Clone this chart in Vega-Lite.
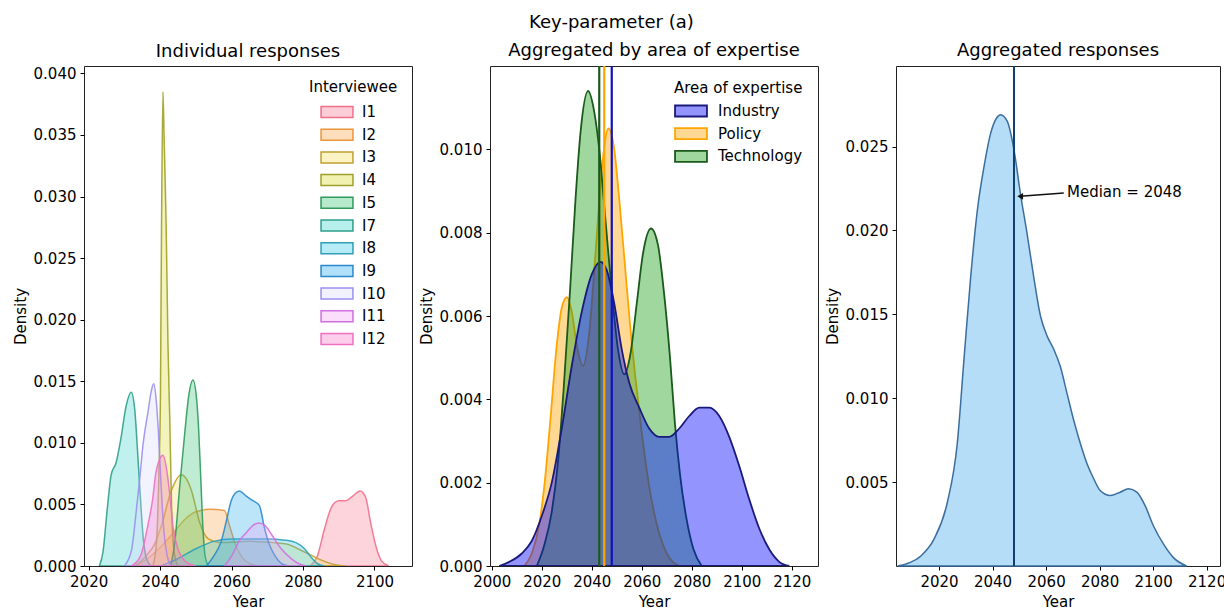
{
  "$schema": "https://vega.github.io/schema/vega-lite/v6.json",
  "padding": {"left": 12, "top": 14, "right": 2, "bottom": 2},
  "title": {"text": "Key-parameter (a)", "anchor": "middle", "fontSize": 18, "fontWeight": "normal", "font": "DejaVu Sans", "color": "#000", "offset": 9, "dx": -8},
  "config": {
    "font": "DejaVu Sans",
    "view": {"stroke": "#222", "strokeWidth": 1},
    "axis": {"grid": false, "domain": false, "labelFontSize": 15, "titleFontSize": 15, "titleFontWeight": "normal", "labelColor": "#000", "titleColor": "#000", "tickColor": "#000", "tickSize": 4, "labelPadding": 4, "titlePadding": 5, "labelFont": "DejaVu Sans", "titleFont": "DejaVu Sans"},
    "title": {"fontSize": 18, "fontWeight": "normal", "font": "DejaVu Sans", "color": "#000", "offset": 5},
    "legend": {"titleFontSize": 15, "titleFontWeight": "normal", "labelFontSize": 15, "titleColor": "#000", "labelColor": "#000", "titleFont": "DejaVu Sans", "labelFont": "DejaVu Sans"}
  },
  "datasets": {
    "ind": [
      {"s":"I1","x":2082,"d":0},{"s":"I1","x":2084,"d":0.0008},{"s":"I1","x":2086,"d":0.003},{"s":"I1","x":2088,"d":0.0048},{"s":"I1","x":2090,"d":0.0053},{"s":"I1","x":2092,"d":0.0053},{"s":"I1","x":2094,"d":0.0057},{"s":"I1","x":2096,"d":0.0061},{"s":"I1","x":2097.5,"d":0.0056},{"s":"I1","x":2099,"d":0.0034},{"s":"I1","x":2100.5,"d":0.0015},{"s":"I1","x":2102,"d":0.0004},{"s":"I1","x":2104,"d":0},
      {"s":"I2","x":2033,"d":0},{"s":"I2","x":2036,"d":0.0005},{"s":"I2","x":2040,"d":0.0015},{"s":"I2","x":2044,"d":0.0028},{"s":"I2","x":2047,"d":0.0038},{"s":"I2","x":2050,"d":0.0044},{"s":"I2","x":2054,"d":0.0046},{"s":"I2","x":2058,"d":0.0045},{"s":"I2","x":2059.5,"d":0.0032},{"s":"I2","x":2061.3,"d":0.0016},{"s":"I2","x":2063,"d":0.0007},{"s":"I2","x":2066,"d":0.0001},{"s":"I2","x":2068,"d":0},
      {"s":"I3","x":2033,"d":0},{"s":"I3","x":2036,"d":0.0008},{"s":"I3","x":2038.5,"d":0.0018},{"s":"I3","x":2040.5,"d":0.0034},{"s":"I3","x":2043,"d":0.006},{"s":"I3","x":2046,"d":0.0074},{"s":"I3","x":2048.7,"d":0.0062},{"s":"I3","x":2051,"d":0.0036},{"s":"I3","x":2053.5,"d":0.0022},{"s":"I3","x":2057,"d":0.0019},{"s":"I3","x":2065,"d":0.002},{"s":"I3","x":2075,"d":0.0018},{"s":"I3","x":2080,"d":0.0012},{"s":"I3","x":2085,"d":0.0005},{"s":"I3","x":2089,"d":0.0001},{"s":"I3","x":2092,"d":0},
      {"s":"I4","x":2038,"d":0},{"s":"I4","x":2039,"d":0.002},{"s":"I4","x":2039.7,"d":0.008},{"s":"I4","x":2040.1,"d":0.014},{"s":"I4","x":2040.4,"d":0.0276},{"s":"I4","x":2040.8,"d":0.0385},{"s":"I4","x":2041.1,"d":0.035},{"s":"I4","x":2041.7,"d":0.0276},{"s":"I4","x":2042.2,"d":0.018},{"s":"I4","x":2042.7,"d":0.012},{"s":"I4","x":2043.2,"d":0.005},{"s":"I4","x":2044,"d":0.001},{"s":"I4","x":2045,"d":0},
      {"s":"I5","x":2043,"d":0},{"s":"I5","x":2044.1,"d":0.0019},{"s":"I5","x":2045.5,"d":0.0065},{"s":"I5","x":2046.9,"d":0.0108},{"s":"I5","x":2048,"d":0.0138},{"s":"I5","x":2049.2,"d":0.0151},{"s":"I5","x":2050.2,"d":0.0136},{"s":"I5","x":2050.8,"d":0.011},{"s":"I5","x":2051.4,"d":0.007},{"s":"I5","x":2052,"d":0.003},{"s":"I5","x":2052.6,"d":0.0008},{"s":"I5","x":2053.5,"d":0},
      {"s":"I7","x":2023,"d":0},{"s":"I7","x":2024,"d":0.0011},{"s":"I7","x":2025.2,"d":0.0046},{"s":"I7","x":2026.3,"d":0.0074},{"s":"I7","x":2027.7,"d":0.0084},{"s":"I7","x":2029,"d":0.0103},{"s":"I7","x":2030.5,"d":0.013},{"s":"I7","x":2031.9,"d":0.0141},{"s":"I7","x":2032.9,"d":0.0127},{"s":"I7","x":2033.8,"d":0.0088},{"s":"I7","x":2034.5,"d":0.0055},{"s":"I7","x":2035.3,"d":0.0022},{"s":"I7","x":2036.2,"d":0.0006},{"s":"I7","x":2037.5,"d":0},
      {"s":"I8","x":2040,"d":0},{"s":"I8","x":2045,"d":0.0006},{"s":"I8","x":2050,"d":0.0014},{"s":"I8","x":2055,"d":0.002},{"s":"I8","x":2060,"d":0.0022},{"s":"I8","x":2065,"d":0.0022},{"s":"I8","x":2070,"d":0.0022},{"s":"I8","x":2075,"d":0.0021},{"s":"I8","x":2078,"d":0.0019},{"s":"I8","x":2080.4,"d":0.0014},{"s":"I8","x":2082.3,"d":0.0007},{"s":"I8","x":2084,"d":0.0002},{"s":"I8","x":2086,"d":0},
      {"s":"I9","x":2053,"d":0},{"s":"I9","x":2055,"d":0.0008},{"s":"I9","x":2057.1,"d":0.002},{"s":"I9","x":2058.5,"d":0.0036},{"s":"I9","x":2059.9,"d":0.0053},{"s":"I9","x":2061,"d":0.0059},{"s":"I9","x":2062.2,"d":0.0061},{"s":"I9","x":2064,"d":0.0057},{"s":"I9","x":2066,"d":0.0053},{"s":"I9","x":2067.8,"d":0.0049},{"s":"I9","x":2069.2,"d":0.0031},{"s":"I9","x":2070.5,"d":0.0018},{"s":"I9","x":2072,"d":0.0009},{"s":"I9","x":2074,"d":0.0002},{"s":"I9","x":2076,"d":0},
      {"s":"I10","x":2030,"d":0},{"s":"I10","x":2032,"d":0.0013},{"s":"I10","x":2033.3,"d":0.0044},{"s":"I10","x":2034.3,"d":0.0071},{"s":"I10","x":2035.2,"d":0.0098},{"s":"I10","x":2036.6,"d":0.0125},{"s":"I10","x":2037.6,"d":0.0143},{"s":"I10","x":2038.2,"d":0.0148},{"s":"I10","x":2038.9,"d":0.0135},{"s":"I10","x":2039.5,"d":0.011},{"s":"I10","x":2040.2,"d":0.007},{"s":"I10","x":2041,"d":0.003},{"s":"I10","x":2042,"d":0.0008},{"s":"I10","x":2043,"d":0},
      {"s":"I11","x":2058,"d":0},{"s":"I11","x":2060,"d":0.0008},{"s":"I11","x":2062.3,"d":0.0021},{"s":"I11","x":2064.1,"d":0.0027},{"s":"I11","x":2066,"d":0.0033},{"s":"I11","x":2067.6,"d":0.0035},{"s":"I11","x":2069.3,"d":0.0033},{"s":"I11","x":2071.1,"d":0.0026},{"s":"I11","x":2073.9,"d":0.0014},{"s":"I11","x":2076.7,"d":0.0006},{"s":"I11","x":2079.5,"d":0.0001},{"s":"I11","x":2081,"d":0},
      {"s":"I12","x":2032,"d":0},{"s":"I12","x":2034.5,"d":0.0008},{"s":"I12","x":2036.5,"d":0.0032},{"s":"I12","x":2037.9,"d":0.0054},{"s":"I12","x":2038.9,"d":0.0077},{"s":"I12","x":2040.8,"d":0.009},{"s":"I12","x":2042,"d":0.0075},{"s":"I12","x":2042.7,"d":0.0058},{"s":"I12","x":2043.6,"d":0.0032},{"s":"I12","x":2045,"d":0.0014},{"s":"I12","x":2047,"d":0.0004},{"s":"I12","x":2050,"d":0}
    ],
    "area": [
      {"s":"Policy","x":2013,"d":0},{"s":"Policy","x":2016,"d":0.0003},{"s":"Policy","x":2019,"d":0.001},{"s":"Policy","x":2021,"d":0.0019},{"s":"Policy","x":2023.3,"d":0.0034},{"s":"Policy","x":2026,"d":0.0053},{"s":"Policy","x":2028,"d":0.0062},{"s":"Policy","x":2030,"d":0.00645},{"s":"Policy","x":2032,"d":0.0061},{"s":"Policy","x":2034,"d":0.0053},{"s":"Policy","x":2036.5,"d":0.0048},{"s":"Policy","x":2039,"d":0.0056},{"s":"Policy","x":2041.5,"d":0.0075},{"s":"Policy","x":2044,"d":0.0095},{"s":"Policy","x":2046.7,"d":0.0105},{"s":"Policy","x":2049,"d":0.01},{"s":"Policy","x":2051,"d":0.0088},{"s":"Policy","x":2053.3,"d":0.0072},{"s":"Policy","x":2055.3,"d":0.0058},{"s":"Policy","x":2057.5,"d":0.0045},{"s":"Policy","x":2060,"d":0.0032},{"s":"Policy","x":2063,"d":0.0019},{"s":"Policy","x":2066,"d":0.001},{"s":"Policy","x":2070,"d":0.0003},{"s":"Policy","x":2075,"d":0},
      {"s":"Technology","x":2018,"d":0},{"s":"Technology","x":2021,"d":0.0005},{"s":"Technology","x":2024,"d":0.0013},{"s":"Technology","x":2026.5,"d":0.0025},{"s":"Technology","x":2028.7,"d":0.0042},{"s":"Technology","x":2031.3,"d":0.0066},{"s":"Technology","x":2033.5,"d":0.0088},{"s":"Technology","x":2035.5,"d":0.0104},{"s":"Technology","x":2038.5,"d":0.0114},{"s":"Technology","x":2041,"d":0.0109},{"s":"Technology","x":2043,"d":0.01},{"s":"Technology","x":2045.5,"d":0.0083},{"s":"Technology","x":2048,"d":0.0066},{"s":"Technology","x":2050.5,"d":0.0052},{"s":"Technology","x":2053,"d":0.0046},{"s":"Technology","x":2055.5,"d":0.0051},{"s":"Technology","x":2058,"d":0.0063},{"s":"Technology","x":2060.5,"d":0.0075},{"s":"Technology","x":2063.7,"d":0.0081},{"s":"Technology","x":2066.5,"d":0.0077},{"s":"Technology","x":2069,"d":0.0065},{"s":"Technology","x":2071.3,"d":0.005},{"s":"Technology","x":2073.3,"d":0.0034},{"s":"Technology","x":2075.3,"d":0.0022},{"s":"Technology","x":2078,"d":0.0011},{"s":"Technology","x":2080.7,"d":0.0004},{"s":"Technology","x":2084,"d":0},
      {"s":"Industry","x":2003,"d":0},{"s":"Industry","x":2007,"d":0.0001},{"s":"Industry","x":2012,"d":0.0003},{"s":"Industry","x":2016,"d":0.0006},{"s":"Industry","x":2020,"d":0.0012},{"s":"Industry","x":2024,"d":0.002},{"s":"Industry","x":2028,"d":0.0033},{"s":"Industry","x":2032,"d":0.0048},{"s":"Industry","x":2036,"d":0.0061},{"s":"Industry","x":2040,"d":0.007},{"s":"Industry","x":2043.5,"d":0.0073},{"s":"Industry","x":2046,"d":0.0071},{"s":"Industry","x":2049,"d":0.0063},{"s":"Industry","x":2052,"d":0.0052},{"s":"Industry","x":2055,"d":0.0044},{"s":"Industry","x":2059,"d":0.0038},{"s":"Industry","x":2063,"d":0.0033},{"s":"Industry","x":2067,"d":0.0031},{"s":"Industry","x":2071,"d":0.0031},{"s":"Industry","x":2075,"d":0.0033},{"s":"Industry","x":2079,"d":0.0036},{"s":"Industry","x":2083,"d":0.0038},{"s":"Industry","x":2087,"d":0.0038},{"s":"Industry","x":2091,"d":0.0036},{"s":"Industry","x":2095,"d":0.0031},{"s":"Industry","x":2099,"d":0.0024},{"s":"Industry","x":2103,"d":0.0016},{"s":"Industry","x":2107,"d":0.0009},{"s":"Industry","x":2111,"d":0.0004},{"s":"Industry","x":2115,"d":0.0001},{"s":"Industry","x":2119,"d":0}
    ],
    "med2": [{"s":"Technology","x":2043},{"s":"Policy","x":2045},{"s":"Industry","x":2048}],
    "agg": [
      {"x":2004.5,"d":0},{"x":2009,"d":0.0002},{"x":2013.2,"d":0.0006},{"x":2018.1,"d":0.0016},{"x":2023.1,"d":0.0038},{"x":2026.8,"d":0.0073},{"x":2029.3,"d":0.0123},{"x":2031.8,"d":0.0172},{"x":2034.3,"d":0.0212},{"x":2036.8,"d":0.0238},{"x":2039.3,"d":0.0258},{"x":2041.5,"d":0.0267},{"x":2043,"d":0.0269},{"x":2045.5,"d":0.0265},{"x":2048,"d":0.0248},{"x":2050.4,"d":0.0222},{"x":2052.9,"d":0.0198},{"x":2055.4,"d":0.0172},{"x":2057.9,"d":0.0149},{"x":2060.4,"d":0.0137},{"x":2062.9,"d":0.0129},{"x":2065.3,"d":0.0119},{"x":2067.8,"d":0.0103},{"x":2070.3,"d":0.0087},{"x":2072.8,"d":0.0073},{"x":2075.3,"d":0.0061},{"x":2077.8,"d":0.0052},{"x":2080.2,"d":0.0045},{"x":2084,"d":0.0042},{"x":2087.7,"d":0.0044},{"x":2090.8,"d":0.0046},{"x":2093.9,"d":0.0044},{"x":2097,"d":0.0036},{"x":2100.1,"d":0.0024},{"x":2103.9,"d":0.0013},{"x":2107.6,"d":0.0005},{"x":2112.5,"d":0}
    ],
    "med3": [{"x":2048}],
    "arrow": [{"part":"head","x":2050.3,"d":0.02203},{"part":"tail","x":2066.6,"d":0.02223}],
    "note": [{"x":2067.8,"d":0.02229,"label":"Median = 2048"}]
  },
  "bounds": "flush",
  "spacing": 78,
  "resolve": {
    "scale": {"fill": "independent", "stroke": "independent", "color": "independent"},
    "legend": {"fill": "independent", "stroke": "independent", "color": "independent"}
  },
  "hconcat": [
    {
      "width": 328, "height": 500,
      "title": "Individual responses",
      "data": {"name": "ind"},
      "mark": {"type": "area", "interpolate": "monotone", "fillOpacity": 0.3, "strokeWidth": 1.5, "strokeOpacity": 0.9, "clip": true},
      "encoding": {
        "x": {"field": "x", "type": "quantitative", "scale": {"domain": [2018.7, 2110.5], "nice": false, "zero": false}, "axis": {"title": "Year", "values": [2020, 2040, 2060, 2080, 2100], "format": "d"}},
        "y": {"field": "d", "type": "quantitative", "stack": null, "scale": {"domain": [0, 0.0406], "nice": false}, "axis": {"title": "Density", "values": [0, 0.005, 0.01, 0.015, 0.02, 0.025, 0.03, 0.035, 0.04], "format": ".3f"}},
        "fill": {"field": "s", "type": "nominal", "scale": {"domain": ["I1","I2","I3","I4","I5","I7","I8","I9","I10","I11","I12"], "range": ["#f77189","#f8a040","#f5dc5a","#d8d820","#30c070","#30d0c8","#30c8e8","#20a8f0","#d8d8ff","#f4a0f4","#f870c8"]},
          "legend": {"title": "Interviewee", "orient": "top-right", "offset": 14, "symbolType": "M-1.45,-0.5H1.45V0.5H-1.45Z", "symbolSize": 484, "symbolStrokeWidth": 1.5, "rowPadding": 1.7, "labelOffset": 13, "symbolOffset": 16, "titlePadding": 5, "encode": {"symbols": {"update": {"fillOpacity": {"value": 0.35}, "strokeOpacity": {"value": 1}}}}}},
        "stroke": {"field": "s", "type": "nominal", "scale": {"domain": ["I1","I2","I3","I4","I5","I7","I8","I9","I10","I11","I12"], "range": ["#f0708c","#e8963a","#c0a030","#a0a028","#2e9a5c","#2f9f8a","#2fa0b8","#2a88cc","#9a90f0","#d070e0","#f070c0"]},
          "legend": {"title": "Interviewee", "orient": "top-right", "offset": 14, "symbolType": "M-1.45,-0.5H1.45V0.5H-1.45Z", "symbolSize": 484, "symbolStrokeWidth": 1.5, "rowPadding": 1.7, "labelOffset": 13, "symbolOffset": 16, "titlePadding": 5, "encode": {"symbols": {"update": {"fillOpacity": {"value": 0.35}, "strokeOpacity": {"value": 1}}}}}}
      }
    },
    {
      "width": 328, "height": 500,
      "title": "Aggregated by area of expertise",
      "layer": [
        {
          "data": {"name": "area"},
          "mark": {"type": "area", "interpolate": "monotone", "fillOpacity": 0.42, "strokeWidth": 1.8, "clip": true},
          "encoding": {
            "x": {"field": "x", "type": "quantitative", "scale": {"domain": [1999.3, 2130.5], "nice": false, "zero": false}, "axis": {"title": "Year", "values": [2000, 2020, 2040, 2060, 2080, 2100, 2120], "format": "d"}},
            "y": {"field": "d", "type": "quantitative", "stack": null, "scale": {"domain": [0, 0.012], "nice": false}, "axis": {"title": "Density", "values": [0, 0.002, 0.004, 0.006, 0.008, 0.01], "format": ".3f"}},
            "fill": {"field": "s", "type": "nominal", "scale": {"domain": ["Industry","Policy","Technology"], "range": ["#0000ff","#ffa500","#1aa01a"]},
              "legend": {"title": "Area of expertise", "orient": "top-right", "offset": 15, "symbolType": "M-1.45,-0.5H1.45V0.5H-1.45Z", "symbolSize": 484, "symbolStrokeWidth": 1.8, "rowPadding": 0.7, "labelOffset": 15, "symbolOffset": 5, "titlePadding": 3, "encode": {"symbols": {"update": {"fillOpacity": {"value": 0.42}, "strokeOpacity": {"value": 1}}}}}},
            "stroke": {"field": "s", "type": "nominal", "scale": {"domain": ["Industry","Policy","Technology"], "range": ["#1a1a7a","#ffa500","#1a5a1a"]},
              "legend": {"title": "Area of expertise", "orient": "top-right", "offset": 15, "symbolType": "M-1.45,-0.5H1.45V0.5H-1.45Z", "symbolSize": 484, "symbolStrokeWidth": 1.8, "rowPadding": 0.7, "labelOffset": 15, "symbolOffset": 5, "titlePadding": 3, "encode": {"symbols": {"update": {"fillOpacity": {"value": 0.42}, "strokeOpacity": {"value": 1}}}}}}
          }
        },
        {
          "data": {"name": "med2"},
          "mark": {"type": "rule", "strokeWidth": 2.2},
          "encoding": {
            "x": {"field": "x", "type": "quantitative"},
            "color": {"field": "s", "type": "nominal", "scale": {"domain": ["Industry","Policy","Technology"], "range": ["#1010c0","#ffa500","#1a5a1a"]}, "legend": null}
          }
        }
      ]
    },
    {
      "width": 324, "height": 500,
      "title": "Aggregated responses",
      "layer": [
        {
          "data": {"name": "agg"},
          "mark": {"type": "area", "interpolate": "monotone", "fill": "#b5ddf8", "stroke": "#3b6e9e", "strokeWidth": 1.5},
          "encoding": {
            "x": {"field": "x", "type": "quantitative", "scale": {"domain": [2003.9, 2125], "nice": false, "zero": false}, "axis": {"title": "Year", "values": [2020, 2040, 2060, 2080, 2100, 2120], "format": "d"}},
            "y": {"field": "d", "type": "quantitative", "scale": {"domain": [0, 0.0298], "nice": false}, "axis": {"title": "Density", "values": [0.005, 0.01, 0.015, 0.02, 0.025], "format": ".3f"}}
          }
        },
        {
          "data": {"name": "med3"},
          "mark": {"type": "rule", "stroke": "#0f3f6e", "strokeWidth": 2},
          "encoding": {"x": {"field": "x", "type": "quantitative"}}
        },
        {
          "data": {"name": "arrow"},
          "mark": {"type": "line", "stroke": "#111", "strokeWidth": 1.5},
          "encoding": {"x": {"field": "x", "type": "quantitative"}, "y": {"field": "d", "type": "quantitative"}}
        },
        {
          "data": {"name": "arrow"},
          "transform": [{"filter": "datum.part == 'head'"}],
          "mark": {"type": "point", "shape": "triangle-left", "filled": true, "color": "#111", "size": 45, "opacity": 1},
          "encoding": {"x": {"field": "x", "type": "quantitative"}, "y": {"field": "d", "type": "quantitative"}}
        },
        {
          "data": {"name": "note"},
          "mark": {"type": "text", "align": "left", "baseline": "middle", "fontSize": 15, "color": "#000"},
          "encoding": {"x": {"field": "x", "type": "quantitative"}, "y": {"field": "d", "type": "quantitative"}, "text": {"field": "label"}}
        }
      ]
    }
  ]
}
